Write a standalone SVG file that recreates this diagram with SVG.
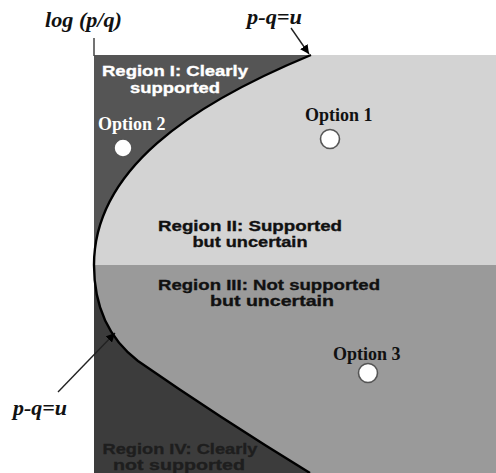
<svg xmlns="http://www.w3.org/2000/svg" width="496" height="473" viewBox="0 0 496 473">
  <defs>
    <marker id="arrowhead" viewBox="0 0 10 10" refX="10" refY="5" markerWidth="9" markerHeight="9" markerUnits="userSpaceOnUse" orient="auto">
      <path d="M0,0 L10,5 L0,10 z" fill="#000"/>
    </marker>
    <style>
      .axis-label { font-family: "Liberation Serif", "Times New Roman", serif; font-weight: bold; font-style: italic; font-size: 21px; fill: #111; }
      .region { font-family: "Liberation Sans", Arial, sans-serif; font-weight: bold; font-size: 15.5px; text-anchor: middle; stroke-width: 0.35; }
      .option { font-family: "Liberation Serif", "Times New Roman", serif; font-weight: bold; font-size: 18px; }
      .marker-dot { fill: #fff; stroke: #555; stroke-width: 1.6; }
      .boundary { fill: none; stroke: #000; stroke-width: 2.4; }
      .pointer { fill: none; stroke: #222; stroke-width: 1.4; marker-end: url(#arrowhead); }
    </style>
  </defs>

  <rect x="0" y="0" width="496" height="473" fill="#fff"/>

  <!-- quadrant fills -->
  <g id="regions">
    <rect id="region-2-bg" x="94" y="55" width="402" height="210" fill="#d3d3d3"/>
    <rect id="region-3-bg" x="94" y="265" width="402" height="208" fill="#9a9a9a"/>
    <path id="region-1-bg" d="M94,55 L311,55 C190,105 94,170 94,265 Z" fill="#555"/>
    <path id="region-4-bg" d="M94,265 C94,305 108,338 138,361 Q220,418 310,473 L94,473 Z" fill="#3c3c3c"/>
  </g>

  <!-- vertical axis tick above the plot -->
  <line x1="94" y1="38" x2="94" y2="56" stroke="#444" stroke-width="1.5"/>

  <!-- connectors: boundary curve p-q=u and pointers -->
  <g id="connectors">
    <path class="boundary" d="M311,55 C190,105 94,170 94,265 C94,305 108,338 138,361 Q220,418 310,473"/>
    <line class="pointer" x1="291" y1="28" x2="309" y2="54"/>
    <line class="pointer" x1="58" y1="392" x2="115" y2="333"/>
  </g>

  <g id="axis-label">
    <text class="axis-label" x="45" y="27" textLength="77" lengthAdjust="spacingAndGlyphs">log (p/q)</text>
  </g>
  <g id="label-top">
    <text class="axis-label" x="247" y="24" textLength="55" lengthAdjust="spacingAndGlyphs">p-q=u</text>
  </g>
  <g id="label-left">
    <text class="axis-label" x="13" y="415" textLength="54" lengthAdjust="spacingAndGlyphs">p-q=u</text>
  </g>

  <g id="region-1">
    <text class="region" fill="#fff" stroke="#fff" x="175" y="76" textLength="146" lengthAdjust="spacingAndGlyphs">Region I: Clearly</text>
    <text class="region" fill="#fff" stroke="#fff" x="175" y="93" textLength="90" lengthAdjust="spacingAndGlyphs">supported</text>
  </g>
  <g id="region-2">
    <text class="region" fill="#111" stroke="#111" x="250" y="231" textLength="184" lengthAdjust="spacingAndGlyphs">Region II: Supported</text>
    <text class="region" fill="#111" stroke="#111" x="250" y="247" textLength="115" lengthAdjust="spacingAndGlyphs">but uncertain</text>
  </g>
  <g id="region-3">
    <text class="region" fill="#111" stroke="#111" x="269" y="290" textLength="222" lengthAdjust="spacingAndGlyphs">Region III: Not supported</text>
    <text class="region" fill="#111" stroke="#111" x="272" y="306" textLength="124" lengthAdjust="spacingAndGlyphs">but uncertain</text>
  </g>
  <g id="region-4">
    <text class="region" fill="#1e1e1e" stroke="#1e1e1e" x="180" y="454" textLength="155" lengthAdjust="spacingAndGlyphs">Region IV: Clearly</text>
    <text class="region" fill="#1e1e1e" stroke="#1e1e1e" x="179" y="470" textLength="132" lengthAdjust="spacingAndGlyphs">not  supported</text>
  </g>

  <g id="option-1">
    <text class="option" fill="#111" x="305" y="121">Option 1</text>
    <circle class="marker-dot" cx="330" cy="139" r="9.5"/>
  </g>
  <g id="option-2">
    <text class="option" fill="#fff" x="98" y="130">Option 2</text>
    <circle class="marker-dot" cx="123" cy="148" r="9"/>
  </g>
  <g id="option-3">
    <text class="option" fill="#111" x="333" y="360">Option 3</text>
    <circle class="marker-dot" cx="368" cy="373" r="9.5"/>
  </g>
</svg>
